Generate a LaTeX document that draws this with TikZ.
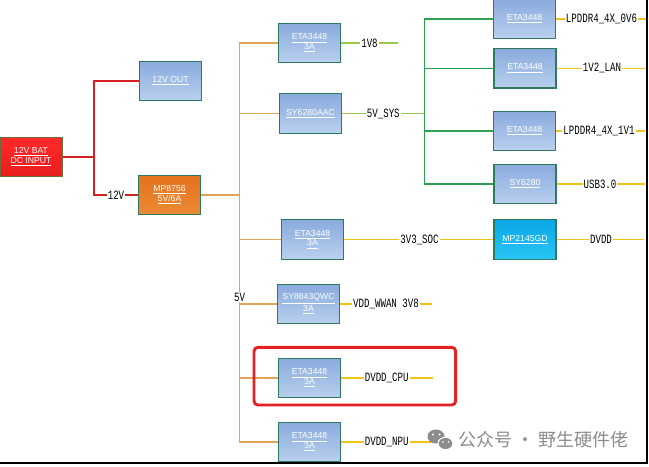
\documentclass[tikz,border=0pt]{standalone}
\usepackage{fontspec}
\usetikzlibrary{positioning}
\newfontfamily\boxfont{Liberation Sans}
\newfontfamily\netfont[FakeStretch=0.72]{Liberation Mono}
\newfontfamily\cjkfont{Noto Sans CJK SC}
\definecolor{bluetop}{HTML}{8AABDD}
\definecolor{bluebot}{HTML}{B9D0EF}
\definecolor{chipedge}{HTML}{2E7A5C}
\definecolor{battop}{HTML}{FF2A2A}
\definecolor{batbot}{HTML}{E81C1C}
\definecolor{batedge}{HTML}{6E6A3C}
\definecolor{mptop}{HTML}{E4731C}
\definecolor{mpbot}{HTML}{EC8A34}
\definecolor{cyantop}{HTML}{0AA6E6}
\definecolor{cyanbot}{HTML}{2AC6F6}
\definecolor{wirered}{HTML}{D42020}
\definecolor{wireorange}{HTML}{E4A458}
\definecolor{wirelime}{HTML}{9CC84A}
\definecolor{wiregreen}{HTML}{2E9E52}
\definecolor{wireyellow}{HTML}{F2C417}
\definecolor{hlred}{HTML}{E52222}
\definecolor{wmgray}{HTML}{8C8C8C}

\begin{document}
\begin{tikzpicture}[
        x=0.75pt, y=-0.75pt,
        chip/.style={rectangle, draw=chipedge, line width=0.9pt, top color=bluetop, bottom color=bluebot, minimum width=46.5pt, minimum height=29.5pt, inner sep=0pt, align=center, text=white, font=\boxfont\fontsize{6.5}{7}\selectfont},
        batchip/.style={chip, draw=batedge, top color=battop, bottom color=batbot, font=\boxfont\fontsize{6.5}{7.5}\selectfont},
        mpchip/.style={chip, top color=mptop, bottom color=mpbot, font=\boxfont\fontsize{6.5}{7.5}\selectfont},
        cychip/.style={chip, top color=cyantop, bottom color=cyanbot},
        net/.style={inner sep=0.6pt, fill=white, font=\netfont\fontsize{9.5}{10}\selectfont},
        redw/.style={draw=wirered, line width=1pt},
        orw/.style={draw=wireorange, line width=0.9pt},
        limew/.style={draw=wirelime, line width=0.9pt},
        greenw/.style={draw=wiregreen, line width=1pt},
        yelw/.style={draw=wireyellow, line width=0.9pt}
    ]
        \useasboundingbox (0,0) rectangle (649,467);

        \node[batchip] (bat) at (31,157) {\underline{12V BAT}\\\underline{DC INPUT}};
        \node[chip] (out12) at (170.5,81) {\underline{12V OUT}};
        \node[mpchip] (mp8756) at (169.5,195) {\underline{MP8756}\\\underline{5V/6A}};

        \node[chip] (eta1v8) at (309.5,43) {\underline{ETA3448}\\\underline{3A}};
        \node[chip] (sy6280aac) at (310.5,113.5) {\underline{SY6280AAC}};
        \node[chip] (eta3v3) at (312.5,239.5) {\underline{ETA3448}\\\underline{3A}};
        \node[chip] (sy8843) at (308.5,304) {\underline{SY8843QWC}\\\underline{3A}};
        \node[chip] (etacpu) at (309.5,378) {\underline{ETA3448}\\\underline{3A}};
        \node[chip] (etanpu) at (309.5,442) {\underline{ETA3448}\\\underline{3A}};

        \node[chip] (eta0v6) at (524.5,19) {\underline{ETA3448}};
        \node[chip] (eta1v2) at (525,68.3) {\underline{ETA3448}};
        \node[chip] (eta1v1) at (524.5,131) {\underline{ETA3448}};
        \node[chip] (sy6280) at (525,184) {\underline{SY6280}};
        \node[cychip] (mp2145) at (525,239.5) {\underline{MP2145GD}};

        % 12V input side
        \coordinate (rbot) at (94,195);
        \node[net] (n12v) at (116,195) {12V};
        \draw[redw] (out12.west) -| (rbot) -- (n12v) -- (mp8756.west);
        \draw[redw] (bat.east) -- (bat.east -| rbot);

        % 5V bus
        \coordinate (obot) at (239.5,442);
        \draw[orw] (eta1v8.west) -| (obot) -- (etanpu.west);
        \foreach \c in {mp8756.east, sy6280aac.west, eta3v3.west, sy8843.west, etacpu.west}
            \draw[orw] (\c) -- (\c -| obot);
        \node[net] (n5v) at (239.5,297) {5V};

        % 5V_SYS bus
        \coordinate (gbot) at (424.3,184);
        \node[net] (n5vsys) at (383.3,113.5) {5V\_SYS};
        \draw[limew] (sy6280aac) -- (n5vsys) -- (n5vsys -| gbot);
        \draw[greenw] (eta0v6.west) -| (gbot) -- (sy6280.west);
        \draw[greenw] (eta1v2.west) -- (eta1v2.west -| gbot);
        \draw[greenw] (eta1v1.west) -- (eta1v1.west -| gbot);

        % rails
        \node[net] (n1v8) at (369.5,43) {1V8};
        \coordinate (e1v8) at (397.5,43);
        \draw[limew] (eta1v8) -- (n1v8) -- (e1v8);

        \node[net] (n0v6) at (601.5,19) {LPDDR4\_4X\_0V6};
        \coordinate (e0v6) at (647,19);
        \draw[yelw] (eta0v6) -- (n0v6) -- (e0v6);
        \node[net] (n1v2) at (602,68.3) {1V2\_LAN};
        \coordinate (e1v2) at (647,68.3);
        \draw[yelw] (eta1v2) -- (n1v2) -- (e1v2);
        \node[net] (n1v1) at (599,131) {LPDDR4\_4X\_1V1};
        \coordinate (e1v1) at (645,131);
        \draw[yelw] (eta1v1) -- (n1v1) -- (e1v1);
        \node[net] (nusb) at (600,184) {USB3.0};
        \coordinate (eusb) at (645,184);
        \draw[yelw] (sy6280) -- (nusb) -- (eusb);

        \node[net] (n3v3) at (419.5,239.5) {3V3\_SOC};
        \draw[yelw] (eta3v3) -- (n3v3) -- (mp2145);
        \node[net] (ndvdd) at (601,239.5) {DVDD};
        \coordinate (edvdd) at (644,239.5);
        \draw[yelw] (mp2145) -- (ndvdd) -- (edvdd);

        \node[net] (nwwan) at (386,304) {VDD\_WWAN 3V8};
        \coordinate (ewwan) at (432.3,304);
        \draw[yelw] (sy8843) -- (nwwan) -- (ewwan);
        \node[net] (ncpu) at (386.7,378) {DVDD\_CPU};
        \coordinate (ecpu) at (432.7,378);
        \draw[yelw] (etacpu) -- (ncpu) -- (ecpu);
        \node[net] (nnpu) at (386.7,442) {DVDD\_NPU};
        \coordinate (enpu) at (432.7,442);
        \draw[yelw] (etanpu) -- (nnpu) -- (enpu);

        % highlight and frame
        \draw[hlred, line width=2.2pt, rounded corners=3pt] (254,347.3) rectangle (455.7,405);
        \draw[line width=1.5pt] (0,462.7) -- (647.3,462.7) -- (647.3,0);

        % watermark
        \fill[wmgray] (436,436.5) ellipse (8.5 and 7);
        \filldraw[fill=wmgray, draw=white, line width=0.8pt] (445.5,443.5) ellipse (7.5 and 6.2);
        \fill[white] (433,434.5) circle (1.1) (439.5,434.5) circle (1.1) (443,442) circle (0.9) (448.5,442) circle (0.9);
        \node[anchor=west, inner sep=0pt, text=wmgray, font=\cjkfont\fontsize{13.5}{13.5}\selectfont] (wm) at (458,440) {公众号 · 野生硬件佬};
    \end{tikzpicture}
\end{document}
